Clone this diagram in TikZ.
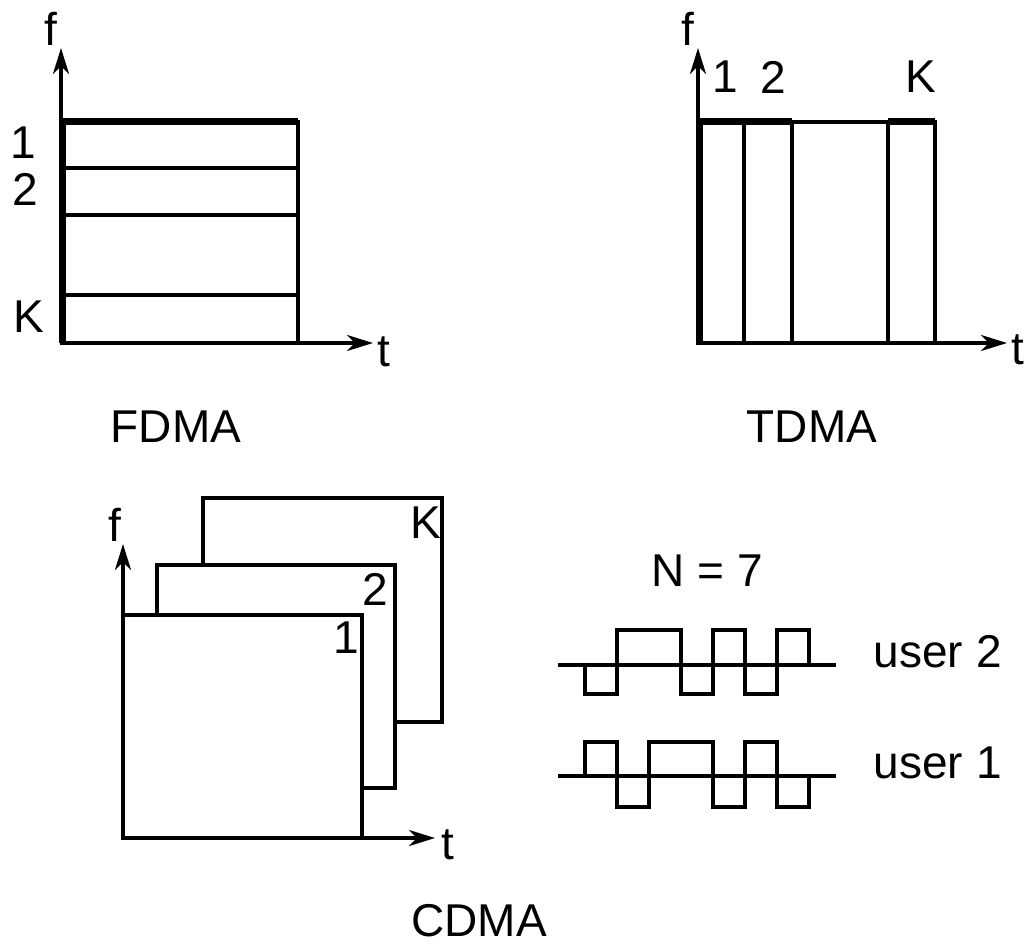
\documentclass[tikz,border=0pt]{standalone}
\usepackage{fontspec}
\setmainfont{Liberation Sans}
\usetikzlibrary{arrows.meta,positioning}

\begin{document}
\begin{tikzpicture}[x=1pt,y=-1pt,>={Stealth[length=26pt,width=16pt,inset=8pt]},line width=3.6pt,
    thickedge/.style={line width=7pt},
    lbl/.style={inner sep=0pt,font=\fontsize{46}{55}\selectfont},
    sheet/.style={draw,fill=white}]
  \useasboundingbox (0,0) rectangle (1033,946);

  % FDMA
  \coordinate (fdo) at (61,343);
  \coordinate (fdf) at (61,48);
  \coordinate (fdt) at (373,343);
  \draw[->] (fdo) -- (fdf);
  \draw[->] (fdo) -- (fdt);
  \draw (62,122) rectangle (298,343);
  \draw[thickedge] (62,343) -- (62,121) -- (298,121);
  \foreach \y in {168,215,295}
    \draw (62,\y) -- (298,\y);
  \node[lbl] (fdflbl) at (51,29) {f};
  \node[lbl] (fdtlbl) at (384,352) {t};
  \node[lbl] (fd1) at (23,143) {1};
  \node[lbl] (fd2) at (25,189) {2};
  \node[lbl] (fdK) at (29,317) {K};
  \node[lbl] (fdma) at (176,427) {FDMA};

  % TDMA
  \coordinate (tdo) at (698,343);
  \coordinate (tdf) at (698,48);
  \coordinate (tdt) at (1007,343);
  \draw[->] (tdo) -- (tdf);
  \draw[->] (tdo) -- (tdt);
  \draw (698,122) rectangle (935,343);
  \foreach \x in {744,792,888}
    \draw (\x,122) -- (\x,343);
  \draw[thickedge] (699,343) -- (699,121) -- (792,121);
  \draw[thickedge] (888,121) -- (935,121);
  \node[lbl] (tdflbl) at (688,29) {f};
  \node[lbl] (tdtlbl) at (1018,350) {t};
  \node[lbl] (td1) at (725,77) {1};
  \node[lbl] (td2) at (773,77) {2};
  \node[lbl] (tdK) at (921,77) {K};
  \node[lbl] (tdma) at (812,427) {TDMA};

  % CDMA
  \draw[sheet] (203,498) rectangle (442,722);
  \draw[sheet] (157,565) rectangle (395,788);
  \draw[sheet] (123,615) rectangle (362,838);
  \coordinate (cdo) at (123,838);
  \coordinate (cdf) at (123,544);
  \coordinate (cdt) at (435,838);
  \draw[->] (cdo) -- (cdf);
  \draw[->] (cdo) -- (cdt);
  \node[lbl] (cdflbl) at (115,525) {f};
  \node[lbl] (cdtlbl) at (448,845) {t};
  \node[lbl] (cd1) at (346,638) {1};
  \node[lbl] (cd2) at (375,589) {2};
  \node[lbl] (cdK) at (426,523) {K};
  \node[lbl] (cdma) at (479,921) {CDMA};

  % spreading codes
  \node[lbl] (nchip) at (707,571) {N = 7};
  \coordinate (u2a) at (558,665);
  \coordinate (u2b) at (836,665);
  \coordinate (u1a) at (558,776);
  \coordinate (u1b) at (836,776);
  \draw (u2a) -- (u2b);
  \draw (u1a) -- (u1b);
  \draw (585,665) -- (585,694) -- (617,694) -- (617,630) -- (681,630) -- (681,694)
    -- (713,694) -- (713,630) -- (745,630) -- (745,694) -- (777,694) -- (777,630)
    -- (809,630) -- (809,665);
  \draw (585,776) -- (585,742) -- (617,742) -- (617,807) -- (649,807) -- (649,742)
    -- (713,742) -- (713,807) -- (745,807) -- (745,742) -- (777,742) -- (777,807)
    -- (809,807) -- (809,776);
  \node[lbl,anchor=west] (user2) at (872,652) {user 2};
  \node[lbl,anchor=west] (user1) at (872,763) {user 1};
\end{tikzpicture}
\end{document}
